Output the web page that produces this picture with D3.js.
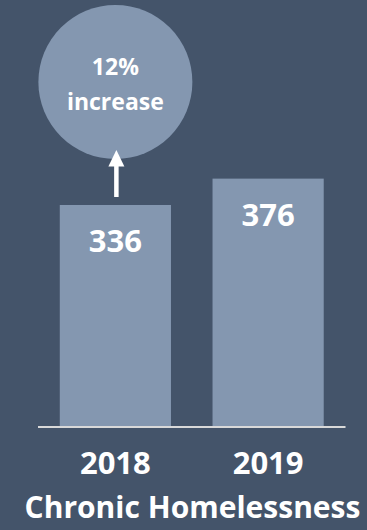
<!DOCTYPE html>
<html>
<head>
<meta charset="utf-8">
<script src="https://cdn.jsdelivr.net/npm/d3@7"></script>
<style>
    html, body { margin: 0; padding: 0; background: #44546a; }
    svg { display: block; }
    text { font-family: "Open Sans", sans-serif; font-weight: 700; fill: #ffffff; }
</style>
</head>
<body>
<div id="chart"></div>
<script>
const years = ["2018", "2019"];
const counts = [336, 376];
const changeLabel = ["12%", "increase"];
const chartTitle = "Chronic Homelessness";

const width = 367;
const height = 530;

const svg = d3.select("#chart")
    .append("svg")
    .attr("width", width)
    .attr("height", height);

svg.append("rect")
    .attr("width", width)
    .attr("height", height)
    .attr("fill", "#44546a");

const x = d3.scaleBand()
    .domain(years)
    .range([39, 344.5])
    .paddingInner(0.272)
    .paddingOuter(0.136);

const y = d3.scaleLinear()
    .domain([0, 400])
    .range([426.5, 162.8]);

const data = years.map((yr, i) => ({year: yr, value: counts[i]}));

// bars
svg.selectAll(".bar")
    .data(data)
    .enter()
    .append("rect")
    .attr("class", "bar")
    .attr("x", d => x(d.year))
    .attr("y", d => y(d.value))
    .attr("width", x.bandwidth())
    .attr("height", d => y(0) - y(d.value))
    .attr("fill", "#8497b0");

// baseline
svg.append("line")
    .attr("x1", x.range()[0] - 1)
    .attr("x2", x.range()[1] + 1)
    .attr("y1", y(0) + 0.5)
    .attr("y2", y(0) + 0.5)
    .attr("stroke", "#d9d9d9")
    .attr("stroke-width", 2);

// value labels inside bars
svg.selectAll(".value-label")
    .data(data)
    .enter()
    .append("text")
    .attr("class", "value-label")
    .attr("x", d => x(d.year) + x.bandwidth() / 2)
    .attr("y", d => y(d.value) + 47)
    .attr("text-anchor", "middle")
    .style("font-size", "31px")
    .text(d => d.value);

// year labels
svg.selectAll(".year-label")
    .data(data)
    .enter()
    .append("text")
    .attr("class", "year-label")
    .attr("x", d => x(d.year) + x.bandwidth() / 2)
    .attr("y", 474)
    .attr("text-anchor", "middle")
    .style("font-size", "31px")
    .text(d => d.year);

// title
svg.append("text")
    .attr("x", 192.5)
    .attr("y", 518)
    .attr("text-anchor", "middle")
    .style("font-size", "30px")
    .text(chartTitle);

// increase bubble above the first bar
const cx = x(years[0]) + x.bandwidth() / 2;
const cy = 82;
const r = 77;

svg.append("circle")
    .attr("cx", cx)
    .attr("cy", cy)
    .attr("r", r)
    .attr("fill", "#8497b0");

svg.append("text")
    .attr("x", cx)
    .attr("y", 75)
    .attr("text-anchor", "middle")
    .style("font-size", "23px")
    .text(changeLabel[0]);

svg.append("text")
    .attr("x", cx)
    .attr("y", 110)
    .attr("text-anchor", "middle")
    .style("font-size", "23px")
    .text(changeLabel[1]);

// arrow
const arrowBottom = y(counts[0]) - 8;
svg.append("line")
    .attr("x1", cx + 1)
    .attr("x2", cx + 1)
    .attr("y1", arrowBottom)
    .attr("y2", 164)
    .attr("stroke", "#ffffff")
    .attr("stroke-width", 4.5);

svg.append("path")
    .attr("d", `M${cx + 1},150 L${cx + 9},166.5 L${cx - 7},166.5 Z`)
    .attr("fill", "#ffffff");
</script>
</body>
</html>
